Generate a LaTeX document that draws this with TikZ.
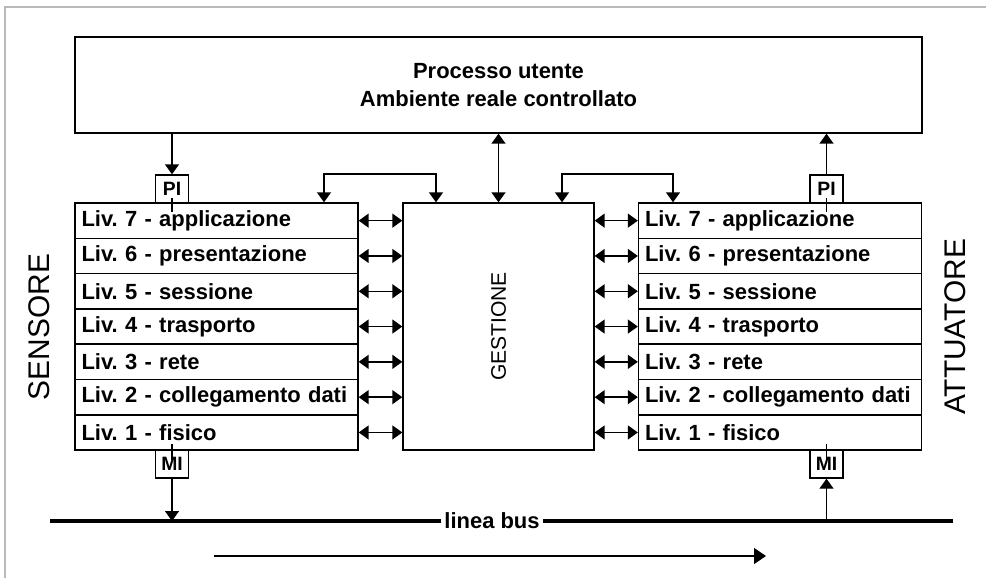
\documentclass[tikz,border=0pt]{standalone}
\usepackage{fontspec}
\setmainfont{Liberation Sans}
\usetikzlibrary{arrows.meta,positioning}
\frenchspacing

\begin{document}
\begin{tikzpicture}[x=0.02cm, y=-0.02cm,
    every node/.style={font=\bfseries\fontsize{12.5}{16}\selectfont},
    box/.style={rectangle, draw, line width=0.8pt, inner sep=0pt},
    lev/.style={box, minimum width=5.66cm, minimum height=0.706cm, inner xsep=0.13cm, text width=5.4cm, align=left},
    tag/.style={box, minimum width=0.66cm, minimum height=0.56cm, fill=white, font=\bfseries\fontsize{11}{13}\selectfont},
    e/.style={-{Triangle[length=2mm, width=2.8mm]}, line width=0.8pt},
    ee/.style={{Triangle[length=2mm, width=2.8mm]}-{Triangle[length=2mm, width=2.8mm]}, line width=0.8pt},
    side/.style={font=\fontsize{17}{20}\selectfont, rotate=90},
  ]
  \useasboundingbox (0,0) rectangle (986,578);
  \draw[gray!55, line width=1.2pt] (5,578) -- (5,7) -- (986,7);

  % processo e gestione
  \node[box, minimum width=16.94cm, minimum height=1.92cm, align=center] (proc) at (498.5,85) {Processo utente\\Ambiente reale controllato};
  \node[box, minimum width=3.82cm, minimum height=4.94cm] (gest) at (498.5,326.5) {};
  \node[rotate=90, font=\fontsize{12}{14}\selectfont] (gestlbl) at (gest.center) {GESTIONE};

  % i sette livelli
  \foreach \n/\txt in {7/applicazione,6/presentazione,5/sessione,4/trasporto,3/rete,2/collegamento dati,1/fisico}{
    \pgfmathsetmacro{\ry}{220.65+(7-\n)*35.3}
    \node[lev] (sen\n) at (216.5,\ry) {Liv.\ \n\ - \txt};
    \node[lev] (att\n) at (780,\ry) {Liv.\ \n\ - \txt};
    \draw[ee] (sen\n.east) -- (sen\n.east -| gest.west);
    \draw[ee] (att\n.west) -- (att\n.west -| gest.east);
  }

  \node[side] (sens) at (39,327) {SENSORE};
  \node[side] (attu) at (955,327) {ATTUATORE};

  % interfacce
  \node[tag] (piL) at (172,189) {PI};
  \node[tag] (piR) at (826.5,189) {PI};
  \node[tag] (miL) at (172,464) {MI};
  \node[tag] (miR) at (826.5,464) {MI};
  \draw[line width=0.8pt] (piL.south) ++(0,-6) -- ++(0,14);
  \draw[line width=0.8pt] (piR.south) ++(0,-6) -- ++(0,14);
  \draw[line width=0.8pt] (miL.north) ++(0,-5) -- ++(0,16);
  \draw[line width=0.8pt] (miR.north) ++(0,-5) -- ++(0,16);

  \draw[e] (proc.south -| piL) -- (piL.north);
  \draw[e] (piR.north) -- (proc.south -| piR);
  \draw[ee] (proc.south -| gest) -- (gest.north);

  \coordinate (bkA) at (324,174);
  \coordinate (bkB) at (436,174);
  \coordinate (bkC) at (562,174);
  \coordinate (bkD) at (673,174);
  \draw[ee] (bkA |- sen7.north) -- (bkA) -- (bkB) -- (bkB |- gest.north);
  \draw[ee] (bkC |- gest.north) -- (bkC) -- (bkD) -- (bkD |- att7.north);

  % linea bus
  \coordinate (busW) at (50,521);
  \coordinate (busE) at (953,521);
  \node[inner xsep=2pt] (bus) at (492,521) {linea bus};
  \draw[line width=2.5pt] (busW) -- (bus.west);
  \draw[line width=2.5pt] (bus.east) -- (busE);
  \draw[e] (miL.south) -- (miL.south |- busW);
  \draw[e] (miR.south |- busE) -- (miR.south);

  \coordinate (flowA) at (214,556);
  \coordinate (flowB) at (766,556);
  \draw[-{Triangle[length=2.4mm, width=3.2mm]}, line width=0.8pt] (flowA) -- (flowB);
\end{tikzpicture}
\end{document}
